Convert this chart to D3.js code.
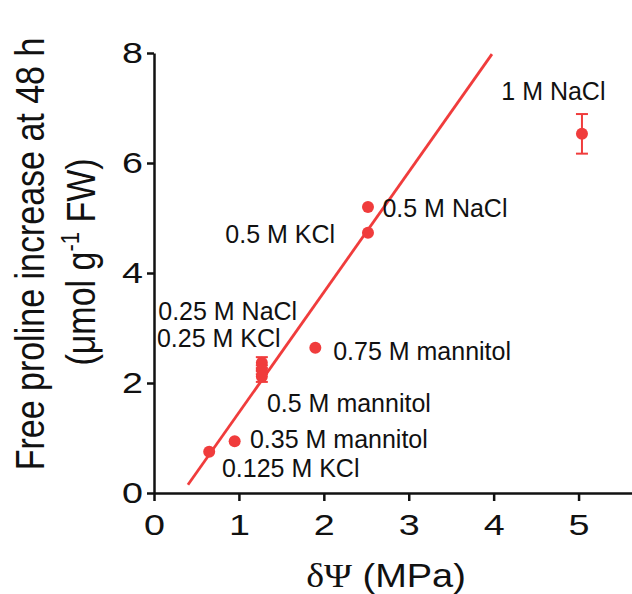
<!DOCTYPE html>
<html lang="en">
<head>
  <meta charset="UTF-8">
  <title>Proline vs osmotic potential</title>
  <script src="https://d3js.org/d3.v7.min.js"></script>
  <style>
    body { margin: 0; background: #fff; }
    text { font-family: "Liberation Sans", Arial, sans-serif; fill: #111; }
    .domain, .tick line { stroke: #111; stroke-width: 2.5px; }
  </style>
</head>
<body>
  <svg width="632" height="594"></svg>
  <script>
    // treatments
    const labels = ["0.125 M KCl", "0.35 M mannitol", "0.25 M NaCl", "0.25 M KCl", "0.5 M mannitol",
                    "0.75 M mannitol", "0.5 M KCl", "0.5 M NaCl", "1 M NaCl"];
    const dPsi = [0.65, 0.95, 1.27, 1.27, 1.27, 1.90, 2.52, 2.52, 5.04];
    const proline = [0.75, 0.94, 2.37, 2.24, 2.12, 2.64, 4.73, 5.20, 6.53];
    const err = [0.05, 0.05, 0.1, 0.08, 0.1, 0.05, 0.05, 0.05, 0.36];
    // where the text labels sit (data units)
    const labelX = [0.80, 1.13, 0.05, 0.035, 1.33, 2.11, 0.84, 2.69, 4.09];
    const labelY = [0.29, 0.82, 3.145, 2.655, 1.47, 2.42, 4.545, 5.02, 7.15];
    // fitted line
    const fitX = [0.40, 3.98];
    const fitY = [0.15, 7.98];
    const xTicks = [0, 1, 2, 3, 4, 5];
    const yTicks = [0, 2, 4, 6, 8];

    const red = "#f03c3c";
    const svg = d3.select("svg");
    const x = d3.scaleLinear().domain([0, 5.7]).range([154, 638]);
    const y = d3.scaleLinear().domain([0, 8]).range([493, 53]);

    // axes
    const gx = svg.append("g").attr("transform", "translate(0,493)")
      .call(d3.axisBottom(x).tickValues(xTicks).tickFormat(d3.format("d"))
        .tickSize(8).tickSizeOuter(0).tickPadding(6));
    gx.selectAll(".tick text")
      .attr("font-size", 29).attr("font-family", "Liberation Sans, Arial, sans-serif")
      .attr("dy", "0.95em")
      .attr("transform", "scale(1.3,1)");  // stretched glyphs, like the original

    const gy = svg.append("g").attr("transform", "translate(154,0)")
      .call(d3.axisLeft(y).tickValues(yTicks).tickFormat(d3.format("d"))
        .tickSize(7).tickSizeOuter(0).tickPadding(3));
    gy.selectAll(".tick text")
      .attr("font-size", 29).attr("font-family", "Liberation Sans, Arial, sans-serif")
      .attr("x", -8.5).attr("transform", "scale(1.3,1)");

    // fit line
    svg.append("path")
      .datum(d3.zip(fitX, fitY))
      .attr("d", d3.line().x(d => x(d[0])).y(d => y(d[1])))
      .attr("stroke", red).attr("stroke-width", 2.8).attr("fill", "none");

    const pts = d3.range(labels.length);

    // error bars
    const eb = svg.append("g").attr("stroke", red).attr("stroke-width", 2);
    eb.selectAll("line.v").data(pts).join("line").attr("class", "v")
      .attr("x1", i => x(dPsi[i])).attr("x2", i => x(dPsi[i]))
      .attr("y1", i => y(proline[i] + err[i])).attr("y2", i => y(proline[i] - err[i]));
    eb.selectAll("line.t").data(pts.filter(i => err[i] > 0.07)).join("line").attr("class", "t")
      .attr("x1", i => x(dPsi[i]) - 6).attr("x2", i => x(dPsi[i]) + 6)
      .attr("y1", i => y(proline[i] + err[i])).attr("y2", i => y(proline[i] + err[i]));
    eb.selectAll("line.b").data(pts.filter(i => err[i] > 0.07)).join("line").attr("class", "b")
      .attr("x1", i => x(dPsi[i]) - 6).attr("x2", i => x(dPsi[i]) + 6)
      .attr("y1", i => y(proline[i] - err[i])).attr("y2", i => y(proline[i] - err[i]));

    // points
    svg.selectAll("circle").data(pts).join("circle")
      .attr("cx", i => x(dPsi[i])).attr("cy", i => y(proline[i]))
      .attr("r", 6).attr("fill", red);

    // point labels
    svg.selectAll("text.lab").data(pts).join("text").attr("class", "lab")
      .attr("x", i => x(labelX[i])).attr("y", i => y(labelY[i]))
      .attr("font-size", 25)
      .text(i => labels[i]);

    // x title
    const xt = svg.append("text").attr("x", 386).attr("y", 587)
      .attr("text-anchor", "middle").attr("font-size", 33)
      .attr("transform", "translate(386,0) scale(1.15,1) translate(-386,0)");
    xt.append("tspan").attr("font-family", "Liberation Serif, serif").text("δΨ");
    xt.append("tspan").text(" (MPa)");

    // y title
    svg.append("text")
      .attr("transform", "translate(44,254) rotate(-90) scale(1,1.2)")
      .attr("text-anchor", "middle").attr("font-size", 34)
      .text("Free proline increase at 48 h");
    const yt2 = svg.append("text")
      .attr("transform", "translate(95,262) rotate(-90) scale(1,1.2)")
      .attr("text-anchor", "middle").attr("font-size", 34);
    yt2.append("tspan").text("(μmol g");
    yt2.append("tspan").attr("font-size", 22).attr("dy", -13).text("-1");
    yt2.append("tspan").attr("dy", 13).text(" FW)");
  </script>
</body>
</html>
